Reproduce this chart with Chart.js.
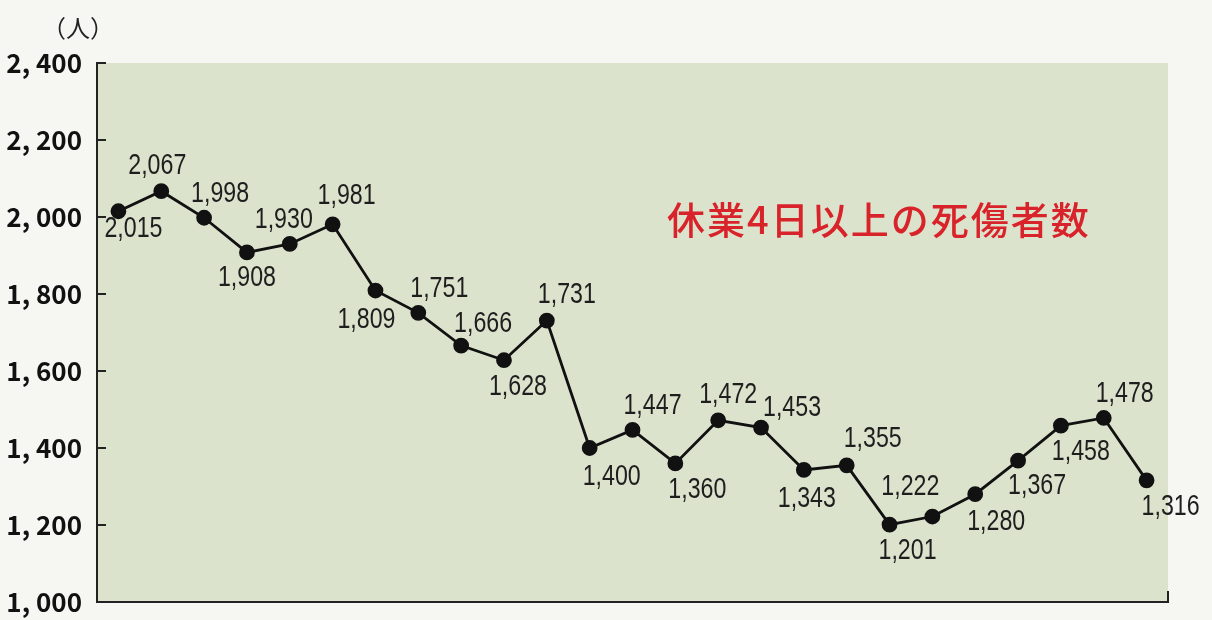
<!DOCTYPE html>
<html>
<head>
<meta charset="utf-8">
<script src="https://cdn.jsdelivr.net/npm/chart.js@4/dist/chart.umd.min.js"></script>
<style>
  html, body { margin:0; padding:0; background:#f6f7f3; }
  #wrap { position:relative; width:1212px; height:620px; overflow:hidden; }
  #unit { position:absolute; left:42px; top:9px; font-family:"Noto Sans CJK JP", sans-serif; font-size:24px; color:#222; white-space:nowrap; }
  #title { position:absolute; left:667px; top:190px; font-family:"Noto Sans CJK JP", sans-serif; font-weight:500; font-size:38px; letter-spacing:2px; color:#d9232b; white-space:nowrap; }
</style>
</head>
<body>
<div id="wrap">
  <canvas id="c" width="1212" height="620"></canvas>
  <div id="unit">（人）</div>
  <div id="title">休業4日以上の死傷者数</div>
</div>
<script>
// ---- data ----
const categories = ["1","2","3","4","5","6","7","8","9","10","11","12","13","14","15","16","17","18","19","20","21","22","23","24","25"];
const casualties = [2015, 2067, 1998, 1908, 1930, 1981, 1809, 1751, 1666, 1628, 1731, 1400, 1447, 1360, 1472, 1453, 1343, 1355, 1201, 1222, 1280, 1367, 1458, 1478, 1316];
const yTicks = [1000, 1200, 1400, 1600, 1800, 2000, 2200, 2400];

// label placement (pixel offsets of each value label from its point)
const labelOffsets = [
  [15,17],[-4,-26],[16,-25],[0,25],[-6,-25],[14,-29],[-9,28],[21,-25],[22,-23],[14,26],[20,-27],
  [22,28],[20,-25],[22,26],[10,-26],[31,-21],[3,28],[26,-27],[18,25],[-22,-31],[21,27],[19,24],[20,25],[21,-25],[24,26]
];

function fmtTick(v) {
  const th = Math.floor(v / 1000), rest = String(v % 1000).padStart(3, "0");
  return th + ", " + rest;
}
function fmtLabel(v) {
  return v.toLocaleString("en-US");
}

const plotBg = {
  id: "plotBg",
  beforeDraw(chart) {
    const {ctx, chartArea: a} = chart;
    ctx.save();
    ctx.fillStyle = "#dce3cd";
    ctx.fillRect(a.left, a.top, a.right - a.left, a.bottom - a.top);
    ctx.restore();
  }
};

const innerTicks = {
  id: "innerTicks",
  afterDraw(chart) {
    const {ctx, chartArea: a} = chart;
    const ys = chart.scales.y;
    ctx.save();
    ctx.strokeStyle = "#222";
    ctx.lineWidth = 2;
    yTicks.forEach(v => {
      const y = Math.round(ys.getPixelForValue(v));
      ctx.beginPath();
      ctx.moveTo(a.left, y);
      ctx.lineTo(a.left + 9, y);
      ctx.stroke();
    });
    ctx.beginPath();
    ctx.moveTo(a.right, a.bottom);
    ctx.lineTo(a.right, a.bottom - 11);
    ctx.stroke();
    ctx.restore();
  }
};

const valueLabels = {
  id: "valueLabels",
  afterDatasetsDraw(chart) {
    const {ctx} = chart;
    const meta = chart.getDatasetMeta(0);
    const sx = 0.8;
    ctx.save();
    ctx.font = '29px "Liberation Sans", Arial, sans-serif';
    ctx.fillStyle = "#1e1e1e";
    ctx.textAlign = "center";
    ctx.textBaseline = "middle";
    meta.data.forEach((pt, i) => {
      const [dx, dy] = labelOffsets[i];
      ctx.save();
      ctx.translate(pt.x + dx, pt.y + dy + 1);
      ctx.scale(sx, 1);
      ctx.fillText(fmtLabel(casualties[i]), 0, 0);
      ctx.restore();
    });
    ctx.restore();
  }
};

new Chart(document.getElementById("c"), {
  type: "line",
  data: {
    labels: categories,
    datasets: [{
      data: casualties,
      borderColor: "#111",
      borderWidth: 2.8,
      backgroundColor: "#111",
      pointBackgroundColor: "#111",
      pointBorderColor: "#111",
      pointRadius: 6.5,
      tension: 0
    }]
  },
  options: {
    responsive: false,
    animation: false,
    layout: { padding: { left: 0, top: 63, right: 44, bottom: 18 } },
    plugins: { legend: { display: false }, tooltip: { enabled: false } },
    scales: {
      x: {
        type: "category",
        offset: true,
        ticks: { display: false, padding: 0 },
        grid: { display: false, drawTicks: false },
        border: { display: true, color: "#222", width: 2 },
        afterFit(s) { s.height = 0; s.paddingLeft = 0; s.paddingRight = 0; }
      },
      y: {
        min: 1000, max: 2400,
        afterBuildTicks(s) { s.ticks = yTicks.map(v => ({ value: v })); },
        ticks: {
          padding: 15,
          color: "#111",
          font: { family: '"Noto Sans CJK JP", sans-serif', size: 26, weight: 700 },
          callback: v => fmtTick(v)
        },
        grid: { display: false, drawTicks: false },
        border: { display: true, color: "#222", width: 2 },
        afterFit(s) { s.width = 97; s.paddingTop = 0; s.paddingBottom = 0; }
      }
    }
  },
  plugins: [plotBg, innerTicks, valueLabels]
});
</script>
</body>
</html>
